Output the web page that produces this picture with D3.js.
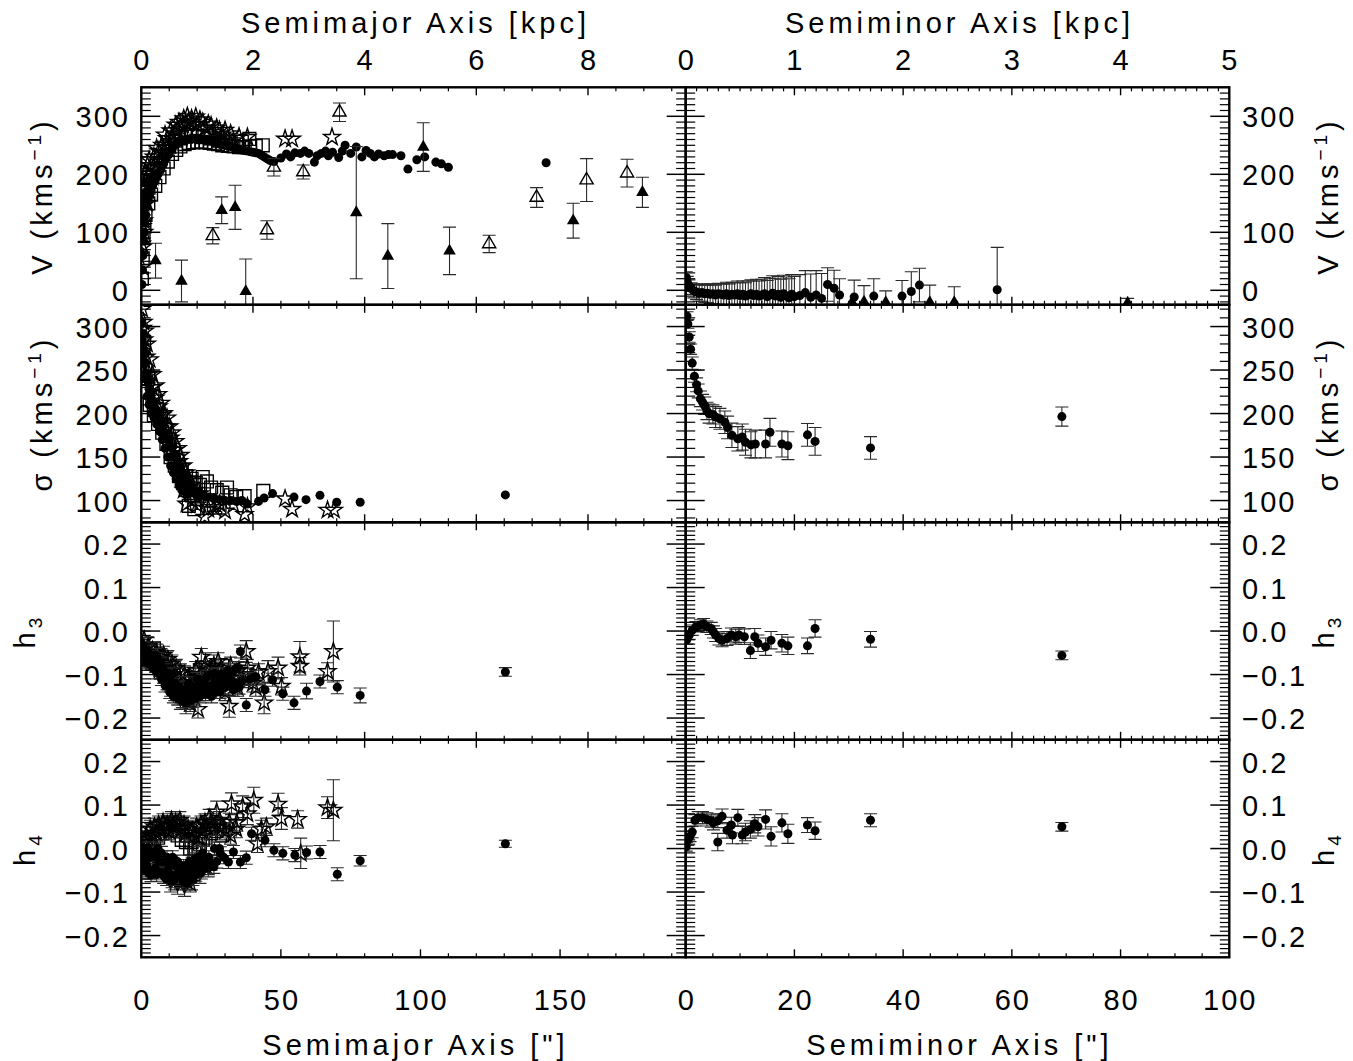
<!DOCTYPE html>
<html>
<head>
<meta charset="utf-8">
<script src="https://cdn.jsdelivr.net/npm/d3@7"></script>
<style>
  html, body { margin: 0; padding: 0; background: #fff; }
  svg text { font-family: "Liberation Sans", Arial, sans-serif; fill: #000; }
</style>
</head>
<body>
<svg id="chart" width="1353" height="1061"></svg>
<script>
// ---------------------------------------------------------------
// Data: [x (arcsec), value, error]  (error 0 = no bar drawn)
// ---------------------------------------------------------------

// ----- major axis, V (km/s)
const majVCirc = [
  [0.1,60,0],[0.2,10,0],[0.3,90,0],[0.4,35,0],[0.5,120,0],[0.6,60,0],[0.7,140,0],[0.8,85,0],
  [1.0,100,0],[1.2,155,0],[1.3,118,0],[1.6,130,0],[1.8,170,0],[2.0,145,0],[2.3,185,0],
  [2.5,155,0],[3.0,165,0],[3.2,195,0],[3.5,172,0],[4.0,180,0],[5,190,0],[6,200,0],[7,208,0],[8,218,0],
  [9,228,0],[10,236,0],[11,244,0],[12,250,0],[13,254,0],[14,257,0],[15,259,0],[16,260,0],
  [17,261,0],[18,262,0],[19,262,0],[20,262,0],[21,262,0],[22,261,0],[23,260,0],[24,258,0],
  [25,257,0],[26,255,0],[27,254,0],[28,252,0],[29,251,0],[30,250,0],[31,249,0],[32,248,0],
  [33,246,0],[34,245,0],[35,243,0],[36,242,0],[37,241,0],[38,240,0],[39,239,0],[40,238,0],
  [41,237,0],[42,236,0],[43,233,0],[44,230,0],[45,227,0],[46,224,0],[47.5,222,0],[50,228,0],
  [52,235,0],[53.5,230,0],[55,237,0],[57,236,0],[58.5,240,0],[60,236,0],[62,221,0],[63,232,0],
  [64.5,236,0],[66,240,0],[67,232,0],[68.5,238,0],[70.7,229,0],[72,240,0],[73,250,0],[75,236,0],
  [77,247,0],[79,230,0],[80.5,241,0],[82,236,0],[83.5,230,0],[85,235,0],[87,232,0],[88.5,234,0],
  [90,234,0],[93,232,0],[95.5,209,0],[98.7,225,0],[101.5,230,0],[105.5,221,0],[107.5,218,0],
  [110,212,0],[145,220,0]
];
const majVStar = [
  [0.15,80,0],[0.3,40,0],[0.4,110,0],[0.6,75,0],[0.7,150,0],[0.9,120,0],[1,180,0],[1,100,0],
  [1.3,160,0],[1.4,200,0],[1.7,190,0],[2,150,0],[2.2,215,0],[2.5,200,0],[2.8,225,0],
  [3,180,0],[3.5,215,0],[4,195,0],[4.5,230,0],[5,205,0],[5.5,245,0],[6,215,0],[6.2,240,0],[7,225,0],
  [7.5,250,0],[8,238,0],[8.5,268,0],[9,245,0],[9.2,262,0],[10,250,0],[10.5,275,0],[11,262,0],[12,270,0],
  [12.3,285,0],[13,276,0],[13.5,290,0],[14,280,0],[15,285,0],[15.2,296,0],[16,288,0],
  [16.5,300,0],[17,292,0],[18,296,0],[18.2,290,0],[19.5,299,0],[20,285,0],[21,294,0],[22,290,0],
  [23,280,0],[24,287,0],[25,284,0],[26,272,0],[27,280,0],[28,276,0],[29,268,0],[30,276,0],
  [31,262,0],[32,270,0],[33,258,0],[35,265,0],[38,264,0],[51.5,261,0],[54,261,0],[68.3,264,0]
];
const majVSq = [
  [0.2,20,0],[0.5,55,0],[0.8,90,0],[1.1,110,0],[1.5,130,0],[2,170,0],[2.5,150,0],[3,190,0],
  [3.5,165,0],[4.2,205,0],[5,180,0],[5.5,215,0],[6.5,195,0],[7,230,0],[8,210,0],[8.5,240,0],
  [9.5,222,0],[10,248,0],[11,235,0],[12,258,0],[12.5,242,0],[14,248,0],[14.2,262,0],[15.5,252,0],
  [16,265,0],[17,254,0],[18,268,0],[18.5,255,0],[20,256,0],[20.2,266,0],[21.5,256,0],[22,264,0],
  [23,255,0],[24.5,254,0],[25,262,0],[26,253,0],[27.5,252,0],[28,258,0],[29,250,0],[31,249,0],
  [32,256,0],[33,248,0],[35,247,0],[36,256,0],[37,247,0],[38.7,261,0],[39,248,0],[41,249,0],
  [43.5,250,0]
];
const majVTri = [
  [5.1,51,30],[14.4,16,36],[28.8,138,23],[33.6,143,38],[37.4,-2,56],[77,134,114],[88.3,59,56],
  [101,247,42],[110.4,68,41],[154.7,120,30],[179.5,169,26]
];
const majVTriOpen = [
  [25.6,94,14],[45,104,16],[47.5,212,15],[58,204,12],[71,307,16],[124.6,80,15],[141.6,160,17],
  [159.5,190,37],[174,202,24]
];

// ----- major axis, sigma (km/s)
const majSigCirc = [
  [0.2,305,0],[0.3,285,0],[0.5,292,0],[0.7,262,0],[0.8,280,0],[1.1,268,0],[1.3,240,0],
  [1.5,258,0],[2,246,0],[2.1,220,0],[2.5,236,0],[2.8,210,0],[3,228,0],[3.5,221,0],[3.6,200,0],
  [4,215,0],[4.5,210,0],[4.6,195,0],[5,206,0],[5.5,188,0],[6,200,0],[6.5,180,0],[7,193,0],
  [7.5,170,0],[8,186,0],[8.5,160,0],[9,177,0],[9.5,150,0],[10,169,0],[10.5,140,0],[11,161,0],
  [11.5,132,0],[12,153,0],[12.5,125,0],[13,145,0],[13.5,118,0],[14,138,0],[14.5,112,0],
  [15,131,0],[16,125,0],[16.2,108,0],[17,120,0],[18,116,0],[19,113,0],[20,110,0],[22,107,0],
  [24,104,0],[26,103,0],[28,101,0],[30,100,0],[32,100,0],[34,99,0],[36,100,0],[38,96,0],
  [42,99,0],[44,103,0],[47,108,0],[54.7,104,0],[59,101,0],[64,106,0],[70,98,0],[78.4,98,0],
  [130.4,106.5,0]
];
const majSigStar = [
  [0.3,320,0],[0.5,298,0],[0.8,305,0],[1,285,0],[1.3,295,0],[1.8,265,0],[2,280,0],[2.8,245,0],
  [3,262,0],[3.8,230,0],[4,245,0],[5,218,0],[5.1,232,0],[6,222,0],[6.2,208,0],[7,212,0],
  [7.5,198,0],[8,200,0],[9,185,0],[9.2,195,0],[10,185,0],[10.5,172,0],[11,178,0],[12,158,0],
  [12.2,168,0],[13,160,0],[13.5,145,0],[14,152,0],[15,140,0],[15.2,112,0],[16,132,0],[16.2,96,0],
  [17,125,0],[18,118,0],[18.2,100,0],[19,112,0],[20,95,0],[21,108,0],[22.7,81,0],[24,90,0],
  [26,92,0],[28,96,0],[30,88,0],[33,95,0],[37,84,0],[38,93,0],[51.5,102,0],[54,90,0],[66.7,89,0],
  [69,89,0]
];
const majSigSq = [
  [0.4,265,0],[1,282,0],[1.5,250,0],[2,225,0],[2.5,240,0],[3,210,0],[4,220,0],[4.5,198,0],
  [5.5,205,0],[6,188,0],[7,196,0],[7.5,178,0],[8.5,182,0],[9,165,0],[10,170,0],[10.5,150,0],
  [11.5,158,0],[12,140,0],[13,146,0],[13.5,128,0],[14.5,135,0],[15,120,0],[16,128,0],
  [16.5,112,0],[17,94,0],[18,125,0],[18.2,106,0],[19,90,0],[19.5,120,0],[20,102,0],[21,118,0],
  [22,127,0],[23.5,122,0],[24,100,0],[25,115,0],[26,95,0],[27,112,0],[28,92,0],[29,109,0],
  [30.7,115,0],[32,106,0],[34,104,0],[37,105,0],[43.7,111,0]
];
const majSigTriDown = [
  [0.6,270,0],[1.2,255,0],[2,240,0],[3,225,0],[4,212,0],[5,203,0],[6.5,195,0],[8,183,0],
  [9.5,172,0],[11,158,0],[12.5,145,0],[14,132,0],[15.5,122,0],[17,115,0],[19,108,0],[21,104,0]
];

// ----- major axis, h3
const majH3Circ = [
  [0.3,-0.03,0.015],[0.8,-0.04,0.015],[1,-0.07,0.015],[1.5,-0.05,0.015],[2.2,-0.045,0.015],
  [2.5,-0.075,0.015],[3,-0.055,0.015],[3.5,-0.07,0.015],[4,-0.06,0.015],[4.2,-0.085,0.015],
  [5,-0.055,0.015],[5.2,-0.08,0.015],[5.5,-0.095,0.015],[6,-0.065,0.015],[6.5,-0.09,0.015],
  [7,-0.075,0.015],[7.2,-0.11,0.015],[7.5,-0.085,0.015],[8,-0.09,0.015],[8.5,-0.125,0.015],
  [9,-0.1,0.015],[9.2,-0.12,0.015],[10,-0.11,0.015],[10.2,-0.14,0.015],[10.5,-0.125,0.015],
  [11,-0.1,0.015],[11.2,-0.125,0.015],[11.5,-0.15,0.015],[12,-0.135,0.015],[12.2,-0.12,0.015],
  [13,-0.145,0.015],[13.2,-0.155,0.015],[13.5,-0.13,0.015],[14,-0.14,0.015],[14.7,-0.161,0.015],
  [15,-0.145,0.015],[16,-0.15,0.015],[16.2,-0.165,0.015],[16.5,-0.13,0.015],[17,-0.12,0.015],
  [17.5,-0.14,0.015],[17.7,-0.16,0.015],[18,-0.13,0.015],[19,-0.13,0.015],[19.2,-0.155,0.015],
  [19.5,-0.14,0.015],[20,-0.11,0.015],[20.5,-0.125,0.015],[21,-0.15,0.015],[21.5,-0.12,0.015],
  [22,-0.115,0.015],[22.5,-0.135,0.015],[23,-0.145,0.015],[23.2,-0.125,0.015],[23.5,-0.105,0.015],
  [24,-0.14,0.015],[25,-0.1,0.015],[25.2,-0.15,0.015],[25.5,-0.125,0.015],[26,-0.13,0.015],
  [26.5,-0.11,0.015],[27,-0.14,0.015],[27.2,-0.1,0.015],[28,-0.12,0.015],[28.2,-0.14,0.015],
  [29,-0.13,0.015],[29.2,-0.115,0.015],[29.5,-0.1,0.015],[30,-0.13,0.015],[31,-0.09,0.015],
  [31.2,-0.12,0.015],[32,-0.11,0.015],[32.5,-0.095,0.015],[33,-0.135,0.015],[33.5,-0.12,0.015],
  [34,-0.085,0.015],[35,-0.13,0.015],[35.5,-0.047,0.015],[36,-0.115,0.015],[37.6,-0.17,0.015],
  [39,-0.11,0.015],[41,-0.105,0.015],[44.3,-0.135,0.015],[47,-0.112,0.015],[50.7,-0.144,0.015],
  [54.7,-0.165,0.015],[59.2,-0.138,0.018],[64,-0.116,0.015],[70.2,-0.129,0.015],
  [78.4,-0.148,0.017],[130.4,-0.094,0.01]
];
const majH3Star = [
  [0.5,-0.035,0.02],[1,-0.02,0.02],[2,-0.05,0.02],[2.5,-0.035,0.02],[3.5,-0.06,0.02],
  [4,-0.045,0.02],[5,-0.07,0.02],[5.5,-0.05,0.02],[6.5,-0.08,0.02],[7,-0.06,0.02],[8,-0.055,0.02],
  [8.5,-0.075,0.02],[9.5,-0.065,0.02],[10,-0.09,0.02],[11,-0.075,0.02],[11.5,-0.1,0.02],
  [12.5,-0.085,0.02],[13,-0.12,0.02],[14,-0.095,0.02],[14.5,-0.14,0.02],[15.5,-0.1,0.02],
  [16,-0.15,0.02],[17,-0.11,0.02],[17.5,-0.165,0.02],[18.5,-0.12,0.02],[19.5,-0.09,0.02],
  [20.3,-0.18,0.02],[21,-0.1,0.02],[21.5,-0.06,0.02],[22.5,-0.12,0.02],[23,-0.075,0.025],
  [24,-0.13,0.02],[24.5,-0.09,0.02],[25.5,-0.115,0.02],[26,-0.08,0.025],[27,-0.125,0.02],
  [27.5,-0.07,0.02],[28.5,-0.085,0.02],[29,-0.1,0.02],[30,-0.14,0.02],[31.5,-0.173,0.025],
  [32,-0.08,0.02],[33,-0.11,0.02],[34.5,-0.13,0.02],[35,-0.09,0.02],[36,-0.1,0.02],
  [37.6,-0.047,0.025],[38,-0.085,0.02],[40,-0.12,0.02],[41,-0.13,0.02],[42,-0.095,0.02],
  [44,-0.165,0.025],[45.4,-0.093,0.025],[49,-0.085,0.025],[50.2,-0.127,0.02],[56.8,-0.059,0.035],
  [56.8,-0.081,0.02],[66.7,-0.093,0.02],[68.8,-0.047,0.07]
];
const majH3Sq = [
  [1,-0.06,0],[1.5,-0.045,0],[2.5,-0.065,0],[3,-0.05,0],[4,-0.075,0],[4.5,-0.04,0],[5.5,-0.08,0],
  [6,-0.06,0],[7,-0.095,0],[7.5,-0.07,0],[8.5,-0.105,0],[9,-0.085,0],[10,-0.12,0],[10.5,-0.1,0],
  [11.5,-0.13,0],[12,-0.11,0],[13,-0.14,0],[13.5,-0.12,0],[14.5,-0.15,0],[15,-0.13,0],
  [16,-0.14,0],[16.5,-0.12,0],[18,-0.11,0],[18.2,-0.135,0],[19.5,-0.1,0],[20,-0.12,0],
  [21,-0.09,0],[22,-0.13,0],[23,-0.085,0],[24,-0.11,0],[25,-0.095,0],[26,-0.12,0],[27,-0.09,0],
  [28,-0.105,0],[29,-0.08,0],[30,-0.12,0],[31,-0.1,0],[34,-0.11,0],[38,-0.1,0]
];
const majH3TriDown = [
  [1,-0.05,0.02],[2,-0.06,0.02],[3,-0.065,0.02],[4.5,-0.07,0.02],[5.5,-0.08,0.02],[7,-0.09,0.02],
  [8,-0.1,0.02],[9.5,-0.115,0.02],[10.5,-0.13,0.02],[12,-0.14,0.02],[13,-0.15,0.02],
  [14,-0.16,0.02],[15,-0.16,0.02],[16,-0.17,0.02],[17,-0.15,0.02],[18.5,-0.155,0.02],
  [19.5,-0.13,0.02],[21,-0.14,0.02],[22.5,-0.11,0.02],[24,-0.125,0.02]
];

// ----- major axis, h4
const majH4Circ = [
  [0.3,0.0,0.015],[0.8,-0.03,0.015],[1,-0.02,0.015],[1.2,-0.01,0.015],[1.5,-0.05,0.015],
  [2,-0.04,0.015],[2.2,0.0,0.015],[2.5,-0.055,0.015],[3,-0.02,0.015],[3.5,-0.061,0.015],
  [4,-0.05,0.015],[4.2,-0.01,0.015],[5,-0.045,0.015],[5.2,-0.02,0.015],[5.5,-0.06,0.015],
  [6,0.0,0.015],[6.5,-0.03,0.015],[7,-0.055,0.015],[7.2,-0.01,0.015],[8,-0.03,0.015],
  [8.3,-0.065,0.015],[9,-0.07,0.015],[9.2,-0.02,0.015],[9.5,-0.05,0.015],[10,-0.035,0.015],
  [10.5,-0.06,0.015],[11,-0.075,0.015],[11.2,-0.02,0.015],[12,-0.07,0.015],[12.2,-0.04,0.015],
  [12.5,-0.06,0.015],[13,-0.03,0.015],[13.5,-0.055,0.015],[14,-0.045,0.015],[14.5,-0.065,0.015],
  [15,-0.075,0.015],[15.2,-0.04,0.015],[16,-0.05,0.015],[16.3,-0.08,0.015],[17,-0.065,0.015],
  [17.2,-0.03,0.015],[18,-0.05,0.015],[18.2,-0.035,0.015],[18.5,-0.07,0.015],[19,-0.025,0.015],
  [19.5,-0.06,0.015],[20,-0.05,0.015],[20.2,-0.02,0.015],[21,-0.04,0.015],[21.5,-0.055,0.015],
  [22,-0.01,0.015],[22.5,-0.03,0.015],[23,-0.04,0.015],[24,-0.045,0.015],[24.2,-0.02,0.015],
  [25,-0.035,0.015],[26,-0.042,0.015],[26.2,0.0,0.015],[27,-0.03,0.015],[28,0.0,0.015],
  [28.3,-0.011,0.015],[29.5,-0.02,0.015],[31.2,-0.031,0.015],[33,-0.008,0.015],
  [35.5,-0.031,0.015],[37.6,-0.021,0.015],[39.5,0.034,0.015],[44.3,0.019,0.015],
  [47.5,-0.004,0.015],[50.7,-0.011,0.015],[55,-0.015,0.015],[59.2,-0.009,0.015],[64,-0.008,0.015],
  [70.2,-0.059,0.015],[78.4,-0.028,0.012],[130.4,0.011,0.008]
];
const majH4Star = [
  [0.5,0.0,0.02],[1,0.015,0.02],[1.8,0.03,0.02],[2.5,0.02,0.02],[3.2,0.045,0.02],[4,0.03,0.02],
  [4.7,0.05,0.02],[5.5,0.035,0.02],[6.2,0.055,0.02],[7,0.04,0.02],[7.8,0.06,0.02],
  [8.5,0.045,0.02],[9.3,0.055,0.02],[10,0.04,0.02],[10.8,0.065,0.02],[11.5,0.05,0.02],
  [12.3,0.06,0.02],[13,0.055,0.02],[13.8,0.065,0.02],[14.5,0.045,0.02],[15.3,0.055,0.02],
  [16,0.035,0.02],[16.8,0.045,0.02],[17.5,-0.08,0.02],[18.3,0.04,0.02],[19,0.03,0.02],
  [19.8,0.05,0.02],[20.5,0.025,0.02],[21.3,0.055,0.02],[22,0.04,0.02],[22.8,0.06,0.02],
  [23.5,0.05,0.02],[24.3,0.07,0.02],[25,0.06,0.02],[26,0.05,0.02],[27,0.084,0.025],
  [28,0.065,0.02],[29,0.05,0.02],[30,0.04,0.02],[31.5,0.061,0.02],[32,0.03,0.02],
  [32.3,0.103,0.025],[34,0.045,0.02],[34.2,0.06,0.02],[36.3,0.096,0.025],[38,0.08,0.025],
  [40.3,0.111,0.03],[41.6,0.011,0.02],[43,0.045,0.02],[44.8,0.05,0.02],[49,0.102,0.025],
  [50.2,0.069,0.025],[56,0.067,0.02],[57.1,-0.011,0.035],[66.7,0.094,0.025],[68.8,0.088,0.07]
];
const majH4Sq = [
  [1,-0.01,0],[1.5,0.01,0],[2.5,0.02,0],[3,0.0,0],[4,0.035,0],[4.5,0.015,0],[5.5,0.045,0],
  [6,0.025,0],[7,0.05,0],[7.5,0.035,0],[8.5,0.055,0],[9,0.045,0],[10,0.06,0],[10.5,0.05,0],
  [11.5,0.04,0],[12,0.055,0],[13,0.03,0],[13.5,0.05,0],[14.5,0.02,0],[15,0.04,0],[16,0.015,0],
  [16.5,0.03,0],[17.5,0.0,0],[18,0.015,0],[19,-0.01,0],[19.5,0.0,0],[20.5,0.0,0],[21,0.01,0],
  [22,0.02,0],[23,0.025,0],[24,0.045,0],[25,0.035,0],[26,0.055,0],[27,0.04,0],[28,0.045,0],
  [29,0.03,0]
];
const majH4TriDown = [
  [1,-0.04,0.02],[2,-0.03,0.02],[3,-0.05,0.02],[4.5,-0.025,0.02],[5.5,-0.035,0.02],[7,-0.045,0.02],
  [8,-0.06,0.02],[9.5,-0.065,0.02],[10.5,-0.08,0.02],[12,-0.075,0.02],[13,-0.085,0.02],
  [14.5,-0.07,0.02],[15.5,-0.09,0.02],[17,-0.06,0.02],[18,-0.075,0.02],[19.5,-0.045,0.02],
  [21,-0.06,0.02],[22,-0.035,0.02],[24,-0.045,0.02]
];

// ----- minor axis (right column)
const minVCirc = [
  [0.1,22,10],[0.3,14,10],[0.6,8,10],[1,3,10],[1.5,-1,12],[2,-3,13],[2.5,-5,14],[3,-4,15],
  [3.5,-6,15],[4,-5,16],[4.5,-7,16],[5,-6,17],[5.5,-8,17],[6,-6,18],[6.5,-7,18],[7,-8,19],
  [7.5,-6,20],[8,-9,20],[8.5,-7,21],[9,-8,21],[9.5,-6,22],[10,-9,22],[10.5,-7,23],[11,-10,23],
  [11.5,-8,24],[12,-6,24],[12.5,-9,25],[13,-7,26],[13.5,-10,26],[14,-8,27],[14.5,-6,28],
  [15,-11,28],[15.5,-8,29],[16,-5,30],[16.5,-10,30],[17,-7,31],[17.5,-12,31],[18,-6,32],
  [18.5,-10,33],[19,-13,33],[19.5,-7,34],[20,-11,35],[21,-9,36],[22,-4,38],[23,-12,40],
  [24,-8,42],[25,-14,43],[26.1,10,29],[27.3,3.5,31],[28.3,-8,28],[31,-11.5,29],[34.6,-10,30],
  [39.8,-10,27],[41.5,-2,34],[43,9,29],[57.3,1,73]
];
const minVTri = [
  [30.6,-21,0],[32.8,-20,28],[36.8,-21,20],[44.9,-21,30],[49.4,-21,27],[81.3,-22,8]
];
const minSigCirc = [
  [0.24,312,5],[0.4,303,5],[0.65,288,6],[0.9,274,6],[1.2,258,7],[1.6,243,7],[2,233,8],
  [2.3,226,8],[2.7,217,9],[3.1,213,9],[3.5,209,10],[3.9,203,10],[4.3,200,11],[5,199,11],
  [5.5,196,12],[6.3,194,12],[7.2,190,13],[7.7,184,13],[8.5,175,14],[9.6,171,14],[10.4,173,15],
  [11,167,15],[12,164,15],[12.8,165,16],[14.7,165,16],[15.5,178.5,16],[17.7,165,15],[18.8,163,16],
  [22.4,175.5,13],[23.8,168,16],[34,160.5,13],[69.2,196.5,11]
];
const minH3Circ = [
  [0.2,-0.02,0.01],[0.65,-0.009,0.01],[1.2,0.002,0.012],[1.9,0.01,0.012],[2.7,0.014,0.012],
  [3.3,0.016,0.013],[3.9,0.01,0.013],[4.7,0.006,0.014],[5.1,-0.002,0.014],[5.5,-0.009,0.015],
  [6.1,-0.017,0.015],[6.7,-0.021,0.015],[7.6,-0.017,0.016],[8.4,-0.009,0.016],[9.2,-0.013,0.017],
  [9.8,-0.009,0.017],[10.8,-0.013,0.018],[11.9,-0.045,0.018],[12.7,-0.013,0.019],
  [13.3,-0.028,0.019],[14.7,-0.036,0.02],[15.7,-0.021,0.02],[17.7,-0.028,0.02],[18.8,-0.034,0.02],
  [22.4,-0.034,0.018],[23.8,0.006,0.02],[34,-0.019,0.018],[69.2,-0.056,0.01]
];
const minH4Circ = [
  [0.1,0.004,0.01],[0.4,0.019,0.012],[0.8,0.028,0.012],[1.2,0.038,0.013],[1.7,0.065,0.013],
  [2.3,0.071,0.014],[3.1,0.071,0.014],[3.9,0.067,0.015],[4.7,0.064,0.015],[5.1,0.059,0.016],
  [5.9,0.015,0.02],[5.9,0.064,0.016],[6.7,0.074,0.017],[7.6,0.042,0.018],[8.4,0.054,0.018],
  [8.6,0.031,0.02],[9.6,0.071,0.019],[10.4,0.031,0.02],[11,0.038,0.02],[11.9,0.044,0.02],
  [12.7,0.057,0.021],[13.3,0.05,0.021],[14.7,0.067,0.022],[15.7,0.028,0.022],[17.7,0.059,0.021],
  [18.8,0.034,0.022],[22.4,0.054,0.017],[23.8,0.041,0.02],[34,0.065,0.015],[69.2,0.05,0.01]
];

// ----- axis ticks / labels
const arcTicks = [[0, 50, 100, 150], [0, 20, 40, 60, 80, 100]];
const arcMinorStep = [10, 5];
const kpcTicks = [[0, 2, 4, 6, 8], [0, 1, 2, 3, 4, 5]];
const kpcMinorStep = [0.5, 0.1];
const yTicks = [[0, 100, 200, 300], [100, 150, 200, 250, 300], [-0.2, -0.1, 0, 0.1, 0.2], [-0.2, -0.1, 0, 0.1, 0.2]];
const yMinorStep = [10, 10, 0.01, 0.01];
const yDomains = [[-25, 350], [75, 325], [-0.25, 0.25], [-0.25, 0.25]];
const xDomains = [[0, 195], [0, 100]];
const kpcPerArcsec = 0.05;

// ---------------------------------------------------------------
const svg = d3.select('#chart');
const colRange = [[141.3, 685.7], [685.7, 1229.3]];
const top0 = 87.3, rowH = 217.5;
const FS = 29, LS = 2, TLS = 4;

const xArc = xDomains.map((d, i) => d3.scaleLinear().domain(d).range(colRange[i]));
const xKpc = xDomains.map((d, i) => d3.scaleLinear().domain(d.map(v => v * kpcPerArcsec)).range(colRange[i]));
const yS = yDomains.map((d, i) => d3.scaleLinear().domain(d).range([top0 + (i + 1) * rowH, top0 + i * rowH]));

const fmtH = v => d3.format('.1f')(v).replace('-', '\u2212');
const fmtY = [d3.format('d'), d3.format('d'), fmtH, fmtH];

const SYM = {
  circ:    { type: d3.symbolCircle,   size: 64,  fill: '#000', stroke: 'none', rot: 0 },
  star:    { type: d3.symbolStar,     size: 88,  fill: 'none', stroke: '#000', rot: 0 },
  sq:      { type: d3.symbolSquare,   size: 165, fill: 'none', stroke: '#000', rot: 0 },
  tri:     { type: d3.symbolTriangle, size: 68,  fill: '#000', stroke: 'none', rot: 0 },
  triOpen: { type: d3.symbolTriangle, size: 75,  fill: 'none', stroke: '#000', rot: 0 },
  triDown: { type: d3.symbolTriangle, size: 58,  fill: '#000', stroke: 'none', rot: 180 }
};

const panels = [
  { r: 0, c: 0, series: [[majVSq, 'sq'], [majVStar, 'star'], [majVCirc, 'circ'], [majVTriOpen, 'triOpen'], [majVTri, 'tri']] },
  { r: 0, c: 1, series: [[minVCirc, 'circ'], [minVTri, 'tri']] },
  { r: 1, c: 0, series: [[majSigSq, 'sq'], [majSigTriDown, 'triDown'], [majSigStar, 'star'], [majSigCirc, 'circ']] },
  { r: 1, c: 1, series: [[minSigCirc, 'circ']] },
  { r: 2, c: 0, series: [[majH3Sq, 'sq'], [majH3TriDown, 'triDown'], [majH3Star, 'star'], [majH3Circ, 'circ']] },
  { r: 2, c: 1, series: [[minH3Circ, 'circ']] },
  { r: 3, c: 0, series: [[majH4Sq, 'sq'], [majH4TriDown, 'triDown'], [majH4Star, 'star'], [majH4Circ, 'circ']] },
  { r: 3, c: 1, series: [[minH4Circ, 'circ']] }
];

const defs = svg.append('defs');
const CAP = 6.5;

panels.forEach((p, pi) => {
  const x = xArc[p.c], y = yS[p.r];
  const [x0, x1] = colRange[p.c];
  const yTop = top0 + p.r * rowH, yBot = yTop + rowH;

  defs.append('clipPath').attr('id', 'clip' + pi)
    .append('rect').attr('x', x0).attr('y', yTop).attr('width', x1 - x0).attr('height', rowH);

  const g = svg.append('g').attr('clip-path', `url(#clip${pi})`);

  p.series.forEach(([pts, key]) => {
    const s = SYM[key];
    // error bars
    g.append('g').selectAll('path')
      .data(pts.filter(d => d[2] > 0))
      .enter().append('path')
      .attr('d', d => {
        const cx = x(d[0]), ya = y(d[1] - d[2]), yb = y(d[1] + d[2]);
        return `M${cx},${ya}V${yb}M${cx - CAP},${ya}H${cx + CAP}M${cx - CAP},${yb}H${cx + CAP}`;
      })
      .attr('fill', 'none').attr('stroke', '#2a2a2a').attr('stroke-width', 1.1);
    // markers
    g.append('g').selectAll('path')
      .data(pts)
      .enter().append('path')
      .attr('d', d3.symbol().type(s.type).size(s.size))
      .attr('transform', d => `translate(${x(d[0])},${y(d[1])}) rotate(${s.rot})`)
      .attr('fill', s.fill)
      .attr('stroke', s.stroke)
      .attr('stroke-width', 1.4);
  });

  // ---- axes / ticks
  const ax = svg.append('g').attr('stroke', '#000').attr('fill', 'none');
  const tick = (xa, ya, xb, yb, w) => ax.append('line')
    .attr('x1', xa).attr('y1', ya).attr('x2', xb).attr('y2', yb).attr('stroke-width', w);
  const near = (v, arr, eps) => arr.some(a => Math.abs(a - v) < eps);

  // top: kpc ticks pointing down
  const kx = xKpc[p.c], kd = kx.domain();
  const kMinor = d3.range(0, kd[1] + 1e-9, kpcMinorStep[p.c]).filter(v => !near(v, kpcTicks[p.c], 1e-6));
  kpcTicks[p.c].forEach(v => tick(kx(v), yTop, kx(v), yTop + 8, 1.4));
  kMinor.forEach(v => tick(kx(v), yTop, kx(v), yTop + 4, 1.2));

  // bottom: kpc ticks (inner rows) or arcsec ticks (last row), pointing up
  if (p.r < 3) {
    kpcTicks[p.c].forEach(v => tick(kx(v), yBot, kx(v), yBot - 8, 1.4));
    kMinor.forEach(v => tick(kx(v), yBot, kx(v), yBot - 4, 1.2));
  } else {
    const xd = x.domain();
    const aMinor = d3.range(0, xd[1] + 1e-9, arcMinorStep[p.c]).filter(v => !near(v, arcTicks[p.c], 1e-6));
    arcTicks[p.c].forEach(v => tick(x(v), yBot, x(v), yBot - 8, 1.4));
    aMinor.forEach(v => tick(x(v), yBot, x(v), yBot - 4, 1.2));
  }

  // y ticks on both side edges, pointing inward
  const yd = y.domain(), st = yMinorStep[p.r];
  const yMinor = d3.range(Math.ceil(yd[0] / st) * st, yd[1] + 1e-9, st)
    .map(v => Math.round(v / st) * st)
    .filter(v => !near(v, yTicks[p.r], st / 10));
  [[x0, 1], [x1, -1]].forEach(([ex, dir]) => {
    yTicks[p.r].forEach(v => tick(ex, y(v), ex + dir * 19, y(v), 1.5));
    yMinor.forEach(v => tick(ex, y(v), ex + dir * 9.5, y(v), 1.2));
  });

  // frame
  ax.append('rect').attr('x', x0).attr('y', yTop).attr('width', x1 - x0).attr('height', rowH)
    .attr('stroke-width', 2.4);

  // y tick labels
  const lab = svg.append('g').style('font-size', FS + 'px').style('letter-spacing', LS + 'px');
  lab.selectAll('text').data(yTicks[p.r]).enter().append('text')
    .attr('x', p.c === 0 ? 128 + LS : 1242)
    .attr('y', v => y(v) + 11)
    .attr('text-anchor', p.c === 0 ? 'end' : 'start')
    .text(v => fmtY[p.r](v));
});

// x tick labels
const xl = svg.append('g').style('font-size', FS + 'px').style('letter-spacing', LS + 'px').attr('text-anchor', 'middle');
[0, 1].forEach(c => {
  xl.append('g').selectAll('text').data(arcTicks[c]).enter().append('text')
    .attr('x', v => xArc[c](v) + LS / 2).attr('y', 1010).text(v => v);
  xl.append('g').selectAll('text').data(kpcTicks[c]).enter().append('text')
    .attr('x', v => xKpc[c](v) + LS / 2).attr('y', 70).text(v => v);
});

// axis titles
const titles = svg.append('g').style('font-size', FS + 'px').style('letter-spacing', TLS + 'px').attr('text-anchor', 'middle');
const midX = c => (colRange[c][0] + colRange[c][1]) / 2 + TLS / 2;
titles.append('text').attr('x', midX(0)).attr('y', 33).text('Semimajor Axis [kpc]');
titles.append('text').attr('x', midX(1)).attr('y', 33).text('Semiminor Axis [kpc]');
titles.append('text').attr('x', midX(0)).attr('y', 1055).text('Semimajor Axis ["]');
titles.append('text').attr('x', midX(1)).attr('y', 1055).text('Semiminor Axis ["]');

function yTitle(cx, row, kind) {
  const cy = top0 + row * rowH + rowH / 2;
  const t = titles.append('text').attr('transform', `translate(${cx},${cy}) rotate(-90)`);
  if (kind === 'h3' || kind === 'h4') {
    t.append('tspan').text('h');
    t.append('tspan').attr('dy', 7).style('font-size', '19px').text(kind.slice(1));
  } else {
    t.append('tspan').text((kind === 'V' ? 'V' : '\u03c3') + ' (kms');
    t.append('tspan').attr('dy', -11).style('font-size', '19px').text('\u22121');
    t.append('tspan').attr('dy', 11).text(')');
  }
}
['V', 's', 'h3', 'h4'].forEach((k, r) => {
  const isH = r >= 2;
  yTitle(isH ? 35 : 52, r, k);
  yTitle(isH ? 1334 : 1338, r, k);
});
</script>
</body>
</html>
